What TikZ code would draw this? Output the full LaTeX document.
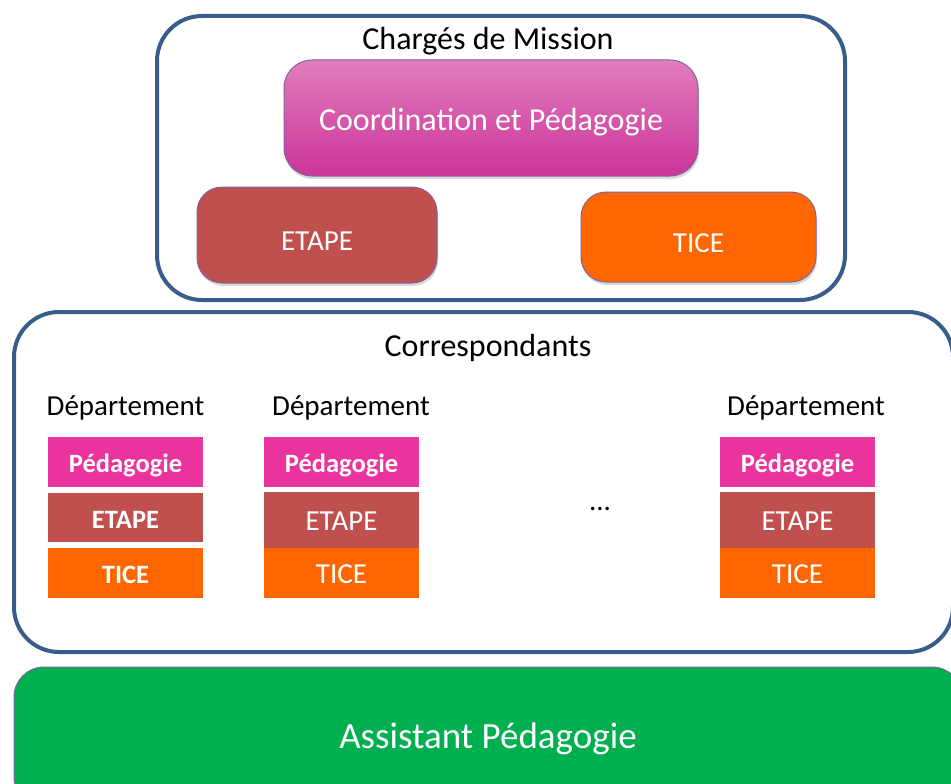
\documentclass[tikz,border=0pt]{standalone}
\usepackage{fontspec}
\setmainfont{Carlito}
\usetikzlibrary{shadows}
\definecolor{frameblue}{RGB}{56,93,138}
\definecolor{edgepurple}{RGB}{128,100,162}
\definecolor{etapered}{RGB}{192,80,77}
\definecolor{ticeorange}{RGB}{255,102,0}
\definecolor{pedapink}{RGB}{235,51,157}
\definecolor{pinktop}{RGB}{224,126,188}
\definecolor{pinkbot}{RGB}{204,51,153}
\definecolor{assistgreen}{RGB}{0,176,80}

\begin{document}
\begin{tikzpicture}[x=1pt,y=-1pt,
  frame/.style={draw=frameblue, line width=4pt, rounded corners=45pt, inner sep=0pt},
  block/.style={draw=edgepurple, line width=1pt, rounded corners=28pt, inner sep=0pt, text=white,
    text height=31pt, text depth=0pt,
    drop shadow={shadow xshift=1pt, shadow yshift=-3pt, opacity=0.3}},
  chip/.style={minimum width=155pt, inner sep=0pt, text=white, text height=21.5pt, text depth=0pt},
  bigtext/.style={font=\fontsize{32}{38}\selectfont},
  midtext/.style={font=\fontsize{29}{34}\selectfont},
  chiptext/.style={font=\bfseries\fontsize{26.5}{30}\selectfont}]

\useasboundingbox (0,0) rectangle (951,784);
\clip (0,0) rectangle (951,784);

\node [frame, minimum width=688pt, minimum height=284pt] (mission) at (501,158) {};
\node [bigtext, anchor=base] (missiontitle) at (488,50) {Chargés de Mission};
\node [block, top color=pinktop, bottom color=pinkbot, minimum width=414pt, minimum height=116pt, bigtext, text height=24.5pt] (coord) at (491,118) {Coordination et Pédagogie};
\node [block, fill=etapered, minimum width=240pt, minimum height=96pt, rounded corners=25pt, midtext] (etape) at (317,235) {ETAPE};
\node [block, fill=ticeorange, minimum width=235pt, minimum height=90pt, rounded corners=25pt, midtext] (tice) at (698.5,237) {TICE};

\node [frame, minimum width=939pt, minimum height=340pt] (corresp) at (483.5,482) {};
\node [bigtext, anchor=base] (corresptitle) at (488,356) {Correspondants};

\node [midtext, anchor=base] (d1) at (125.5,415) {Département};
\node [midtext, anchor=base] (d2) at (351,415) {Département};
\node [midtext, anchor=base] (d3) at (806,415) {Département};

\node [chip, fill=pedapink, minimum height=50pt, chiptext] (p1) at (125.5,462) {Pédagogie};
\node [chip, fill=etapered, minimum height=49pt, chiptext] (e1) at (125.5,517.5) {ETAPE};
\node [chip, fill=ticeorange, minimum height=50pt, chiptext] (t1) at (125.5,573) {TICE};

\node [chip, fill=pedapink, minimum height=50pt, chiptext] (p2) at (341.5,462) {Pédagogie};
\node [chip, fill=etapered, minimum height=56pt, midtext] (e2) at (341.5,520) {ETAPE};
\node [chip, fill=ticeorange, minimum height=50pt, midtext] (t2) at (341.5,573) {TICE};

\node [chip, fill=pedapink, minimum height=50pt, chiptext] (p3) at (797.5,462) {Pédagogie};
\node [chip, fill=etapered, minimum height=56pt, midtext] (e3) at (797.5,520) {ETAPE};
\node [chip, fill=ticeorange, minimum height=50pt, midtext] (t3) at (797.5,573) {TICE};

\node [midtext, anchor=base] (dots) at (600,510) {...};

\node [block, fill=assistgreen, minimum width=948pt, minimum height=140pt, rounded corners=30pt,
  font=\fontsize{37}{44}\selectfont, text height=22pt] (assist) at (488,737) {Assistant Pédagogie};

\end{tikzpicture}
\end{document}
